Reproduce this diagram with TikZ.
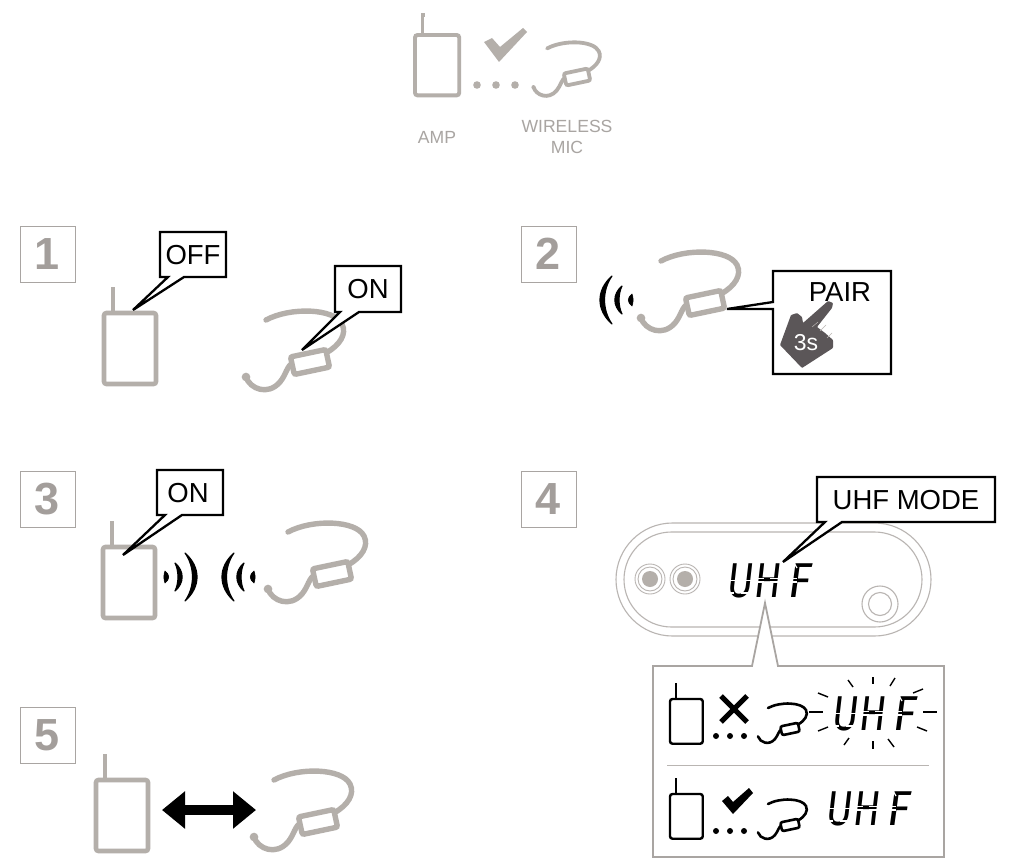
\documentclass[tikz,border=0pt]{standalone}
\usepackage{fontspec}
\usepackage{graphicx}
\setmainfont{Liberation Sans}
\newfontfamily\lcdfont{Fira Sans}
\usetikzlibrary{arrows.meta}
\definecolor{devgray}{HTML}{B4AFAA}
\definecolor{framegray}{HTML}{A9A5A2}
\definecolor{numgray}{HTML}{A39E9B}
\definecolor{ringgray}{HTML}{B9B5B2}
\definecolor{handgray}{HTML}{5B5658}
\tikzset{
  numbox/.style={draw=framegray,line width=1pt,fill=white,minimum width=55pt,minimum height=56pt,inner sep=0pt,text=numgray,font=\fontsize{45}{45}\selectfont\bfseries},
  callout/.style={draw=black,line width=2.3pt,fill=white,line join=miter},
  calltext/.style={inner sep=0pt,font=\fontsize{27.5}{28}\selectfont,text=black},
  toptext/.style={inner sep=0pt,font=\fontsize{17.6}{18}\selectfont,text=framegray,align=center},
  ring/.style={draw=ringgray,line width=1.1pt},
  lcdtext/.style={inner sep=0pt,anchor=base west,transform shape,font=\fontsize{49}{49}\lcdfont\itshape,text=black},
  lcdcut/.style={draw=white,line width=1.2pt},
  ray/.style={draw=black,line width=1.4pt}
}
% amp: top-left corner of the case at #1,#2; scale #3, colour #4, width #5
\newcommand\ampdev[5]{\begin{scope}[shift={(#1,#2)},scale=#3]
  \draw[#4,line width=#5,rounded corners=2.5pt] (0,0) rectangle (52,71);
  \draw[#4,line width=#5*.85] (9,0) -- (9,-26);
\end{scope}}
% antenna cap for the small amps
\newcommand\ampcap[4]{\fill[#4] (#1-#3*2.2,#2-#3*26) rectangle (#1+#3*2.2,#2-#3*21);}
% mic: capsule centre at #1,#2
\newcommand\micdev[5]{\begin{scope}[shift={(#1,#2)},scale=#3]
  \draw[#4,line width=#5,line cap=round] (-64,15) .. controls (-60,27) and (-42,34) .. (-30,20) .. controls (-24,13) and (-23,3) .. (-16,0);
  \fill[#4] (-64,15) circle (#5*.8);
  \draw[#4,line width=#5,line cap=round] (16,-9) .. controls (30,-17) and (37,-28) .. (32,-38) .. controls (24,-54) and (-20,-55) .. (-44,-42);
  \draw[#4,line width=#5,rounded corners=2pt,fill=white] (-19.5,-5.1) -- (15.7,-12.5) -- (19.5,5.1) -- (-15.7,12.5) -- cycle;
\end{scope}}
% wave: arcs opening to the device, centre at #1,#2; #3 = 1 for left, -1 for right
\newcommand\wavemark[3]{\begin{scope}[shift={(#1,#2)},xscale=#3]
  \filldraw[black,line width=1.2pt,line join=round] (-17,-24) .. controls (-33,-10) and (-33,10) .. (-17,24) .. controls (-27,10) and (-27,-10) .. cycle;
  \filldraw[black,line width=1.2pt,line join=round] (-7,-14) .. controls (-16.5,-6) and (-16.5,6) .. (-7,14) .. controls (-11,6) and (-11,-6) .. cycle;
  \filldraw[black,line width=.6pt,line join=round] (3,-6) .. controls (-2,-2) and (-2,2) .. (3,6) .. controls (4.5,2) and (4.5,-2) .. cycle;
\end{scope}}
% segmented display word; baseline-left of the U at #1,#2
\newcommand\lcdword[3]{\begin{scope}[shift={(#1,#2)}]
  \node[lcdtext,xscale=.82] (#3) at (0,0) {U\kern 1pt H\kern 9pt \scalebox{1.18}[1]{F}};
  % gaps between the segments
  \draw[lcdcut] (-2,-16.5) -- (28,-16.5);
  \draw[lcdcut] (-2,-4) -- (7,-4);
  \draw[lcdcut] (14,-4) -- (24,-4);
  \draw[lcdcut] (26,-18.5) -- (37,-18.5);
  \draw[lcdcut] (26,-15) -- (37,-15);
  \draw[lcdcut] (43,-18.5) -- (54,-18.5);
  \draw[lcdcut] (43,-15) -- (54,-15);
  \draw[lcdcut] (58,-18.5) -- (70,-18.5);
  \draw[lcdcut] (58,-15) -- (70,-15);
  \draw[lcdcut] (67,-34) -- (70,-29);
\end{scope}}
\begin{document}
\begin{tikzpicture}[x=1pt,y=-1pt]
\useasboundingbox (0,0) rectangle (1012,859);
\fill[white] (0,0) rectangle (1012,859);

% top legend
\ampdev{415}{35}{.85}{devgray}{3.9pt}
\ampcap{423}{35}{.85}{devgray}
\fill[devgray] (484,42) -- (492,38) -- (500,47) -- (523,28) -- (527,32) -- (499,62) -- cycle;
\foreach \px/\pn in {477/a,496/b,515/c}{\fill[devgray] (\px,85) circle (3.8pt);}
\micdev{577}{77}{.68}{devgray}{3.8pt}
\node[toptext] (amplabel) at (437,137) {AMP};
\node[toptext] (miclabel) at (567,136.5) {WIRELESS\\[3pt]MIC};

% step numbers
\node[numbox] (n1) at (47.5,254) {1};
\node[numbox] (n2) at (548.5,254) {2};
\node[numbox] (n3) at (47.5,499.5) {3};
\node[numbox] (n4) at (548.5,499) {4};
\node[numbox] (n5) at (47.5,735.5) {5};

% step 1
\ampdev{104}{313}{1}{devgray}{4.6pt}
\micdev{310}{362}{1}{devgray}{5.4pt}
\draw[callout] (160,232) -- (226,232) -- (226,277) -- (184,277) -- (133,310) -- (168,277) -- (160,277) -- cycle;
\node[calltext] (off1) at (193,255) {OFF};
\draw[callout] (335,266) -- (401,266) -- (401,312) -- (359,312) -- (302,350) -- (340,312) -- (335,312) -- cycle;
\node[calltext] (on1) at (368,289) {ON};

% step 2
\micdev{705}{303}{1}{devgray}{5.4pt}
\wavemark{629}{300}{1}
\draw[callout] (773,271) -- (891,271) -- (891,374) -- (773,374) -- (773,309) -- (727,309) -- (773,302) -- cycle;
\node[calltext] (pair) at (840,292) {PAIR};
\fill[handgray,rounded corners=.8pt] (780,345) -- (791,315) -- (797,313) -- (802,317) -- (803,323) -- (828,301) -- (833,303) -- (832,308) -- (817,327) -- (825,333) -- (833,340) -- (833,348) -- (802,368) -- cycle;
\draw[ringgray,line width=.5pt] (812,327) -- (818,322) (820,331) -- (826,325) (827,338) -- (832,333);
\node[inner sep=0pt,text=white,font=\fontsize{23}{23}\selectfont] (three) at (806,343) {3s};

% step 3
\ampdev{103}{547}{1}{devgray}{4.6pt}
\micdev{332}{574}{1}{devgray}{5.4pt}
\wavemark{168}{577}{-1}
\wavemark{251}{577}{1}
\draw[callout] (157,470) -- (223,470) -- (223,515) -- (182,515) -- (123,555) -- (165,515) -- (157,515) -- cycle;
\node[calltext] (on3) at (188,493) {ON};

% step 4
\draw[ring,fill=white] (672.5,523) -- (874.5,523) arc[start angle=-90,end angle=90,radius=56.5,y=-1pt,x=1pt] -- (672.5,636) arc[start angle=90,end angle=270,radius=56.5] -- cycle;
\draw[ring] (671.5,532) -- (874.5,532) arc[start angle=-90,end angle=90,radius=47.5] -- (671.5,627) arc[start angle=90,end angle=270,radius=47.5] -- cycle;
\foreach \cx in {650,685}{
  \fill[devgray] (\cx,579) circle (8pt);
  \draw[ring,line width=.9pt] (\cx,579) circle (12pt);
  \draw[ring,line width=.9pt] (\cx,579) circle (15pt);
}
\draw[ring] (880,604) circle (18pt);
\draw[ring] (880,604) circle (11.5pt);
\lcdword{727}{597}{uhfmain}
\draw[callout] (817,477) -- (995,477) -- (995,522) -- (842,522) -- (783,562) -- (825,522) -- (817,522) -- cycle;
\node[calltext] (uhfmode) at (906,500) {UHF MODE};
% panel
\draw[draw=framegray,line width=1.8pt,fill=white,line join=miter] (653,666) -- (752,666) -- (765,603) -- (778,666) -- (944,666) -- (944,857) -- (653,857) -- cycle;
\draw[ringgray,line width=1pt] (667,765) -- (929,765);
\ampdev{670}{699}{.63}{black}{2.4pt}
\ampcap{676}{699}{.63}{black}
\ampdev{670}{794}{.63}{black}{2.4pt}
\ampcap{676}{794}{.63}{black}
\draw[black,line width=5pt] (721,696) -- (747,722);
\draw[black,line width=5pt] (747,696) -- (721,722);
\foreach \px in {716,730,744}{
  \fill[black] (\px,736) circle (3pt);
  \fill[black] (\px,831) circle (3pt);
}
\fill[black] (722,801) -- (728,796) -- (733,802) -- (749,788) -- (753,793) -- (733,814) -- cycle;
\micdev{790}{729}{.5}{black}{2.6pt}
\micdev{790}{825}{.5}{black}{2.6pt}
\lcdword{832}{730}{uhfblink}
\lcdword{826}{825}{uhfsteady}
\foreach \ax/\ay/\bx/\by in {848/680/853/687,873/677/873/684,895/678/890/686,913/693/923/689,923/712/937/712,917/727/927/731,888/739/894/747,873/741/873/749,849/738/844/745,828/727/818/731,809/712/823/712,818/693/828/697}{
  \draw[ray] (\ax,\ay) -- (\bx,\by);
}

% step 5
\ampdev{96}{780}{1}{devgray}{4.6pt}
\micdev{318}{822}{1}{devgray}{5.4pt}
\coordinate (arrowleft) at (162,810);
\coordinate (arrowright) at (256,810);
\draw[black,line width=10pt,{Triangle[length=23pt,width=36pt]}-{Triangle[length=23pt,width=36pt]}] (arrowleft) -- (arrowright);
\end{tikzpicture}
\end{document}
